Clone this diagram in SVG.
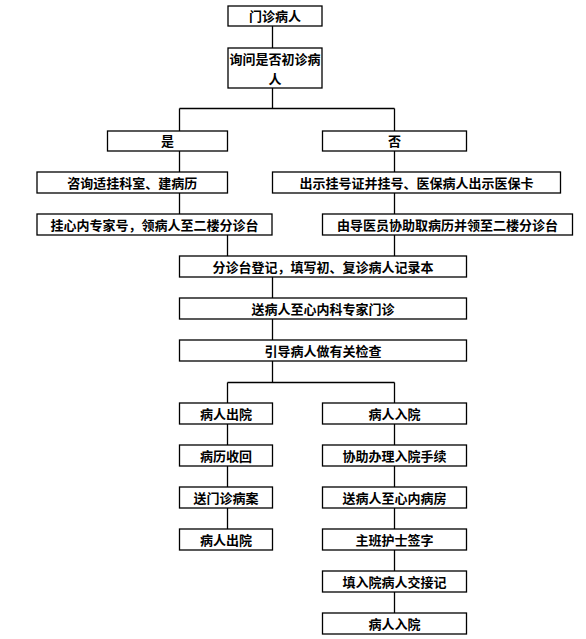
<svg xmlns="http://www.w3.org/2000/svg" width="586" height="639" viewBox="0 0 586 639">
<style>
rect{fill:#fff;stroke:#000;stroke-width:1.3}
text{font-family:"Noto Sans CJK SC","Noto Sans",sans-serif;font-size:13px;font-weight:bold;fill:#000;text-anchor:middle}
.c line{stroke:#000;stroke-width:1.3}
</style>
<rect x="0" y="0" width="586" height="639" style="fill:#fff;stroke:none"/>
<g class="c" id="connectors">
<line x1="272.5" y1="26" x2="272.5" y2="48"/>
<line x1="272.5" y1="88" x2="272.5" y2="108.5"/>
<line x1="179.5" y1="108.5" x2="394.5" y2="108.5"/>
<line x1="179.5" y1="108.5" x2="179.5" y2="131"/>
<line x1="394.5" y1="108.5" x2="394.5" y2="131"/>
<line x1="179.5" y1="151" x2="179.5" y2="172"/>
<line x1="179.5" y1="193" x2="179.5" y2="214"/>
<line x1="394.5" y1="151" x2="394.5" y2="172"/>
<line x1="394.5" y1="193" x2="394.5" y2="214"/>
<line x1="227.5" y1="235" x2="227.5" y2="256"/>
<line x1="394.5" y1="235" x2="394.5" y2="256"/>
<line x1="272.5" y1="277" x2="272.5" y2="298"/>
<line x1="272.5" y1="319" x2="272.5" y2="340"/>
<line x1="272.5" y1="361" x2="272.5" y2="382.5"/>
<line x1="227.5" y1="382.5" x2="394.5" y2="382.5"/>
<line x1="227.5" y1="382.5" x2="227.5" y2="403"/>
<line x1="394.5" y1="382.5" x2="394.5" y2="403"/>
<line x1="227.5" y1="424" x2="227.5" y2="445"/>
<line x1="227.5" y1="466" x2="227.5" y2="487"/>
<line x1="227.5" y1="508" x2="227.5" y2="529"/>
<line x1="394.5" y1="424" x2="394.5" y2="445"/>
<line x1="394.5" y1="466" x2="394.5" y2="487"/>
<line x1="394.5" y1="508" x2="394.5" y2="529"/>
<line x1="394.5" y1="550" x2="394.5" y2="571"/>
<line x1="394.5" y1="592" x2="394.5" y2="613"/>
</g>
<g id="n1"><rect x="228" y="6" width="94" height="20"/><text x="275" y="21">门诊病人</text></g>
<g id="n2"><rect x="228" y="48" width="94" height="40"/><text x="275" y="64">询问是否初诊病</text><text x="275" y="84">人</text></g>
<g id="n3"><rect x="107.5" y="131" width="120" height="20"/><text x="167.5" y="146">是</text></g>
<g id="n4"><rect x="322.5" y="131" width="144" height="20"/><text x="394.5" y="146">否</text></g>
<g id="n5"><rect x="37" y="172" width="190.5" height="21"/><text x="132.3" y="187.5">咨询适挂科室、建病历</text></g>
<g id="n6"><rect x="272.5" y="172" width="288" height="21"/><text x="416.5" y="187.5">出示挂号证并挂号、医保病人出示医保卡</text></g>
<g id="n7"><rect x="37" y="214" width="235" height="21"/><text x="154.5" y="229.5">挂心内专家号，领病人至二楼分诊台</text></g>
<g id="n8"><rect x="322.5" y="214" width="250" height="21"/><text x="447.5" y="229.5">由导医员协助取病历并领至二楼分诊台</text></g>
<g id="n9"><rect x="179.5" y="256" width="287" height="21"/><text x="323" y="271.5">分诊台登记，填写初、复诊病人记录本</text></g>
<g id="n10"><rect x="179.5" y="298" width="287" height="21"/><text x="323" y="313.5">送病人至心内科专家门诊</text></g>
<g id="n11"><rect x="179.5" y="340" width="287" height="21"/><text x="323" y="355.5">引导病人做有关检查</text></g>
<g id="n12"><rect x="179.5" y="403" width="93" height="21"/><text x="226" y="418.5">病人出院</text></g>
<g id="n13"><rect x="322.5" y="403" width="144" height="21"/><text x="394.5" y="418.5">病人入院</text></g>
<g id="n14"><rect x="179.5" y="445" width="93" height="21"/><text x="226" y="460.5">病历收回</text></g>
<g id="n15"><rect x="322.5" y="445" width="144" height="21"/><text x="394.5" y="460.5">协助办理入院手续</text></g>
<g id="n16"><rect x="179.5" y="487" width="93" height="21"/><text x="226" y="502.5">送门诊病案</text></g>
<g id="n17"><rect x="322.5" y="487" width="144" height="21"/><text x="394.5" y="502.5">送病人至心内病房</text></g>
<g id="n18"><rect x="179.5" y="529" width="93" height="21"/><text x="226" y="544.5">病人出院</text></g>
<g id="n19"><rect x="322.5" y="529" width="144" height="21"/><text x="394.5" y="544.5">主班护士签字</text></g>
<g id="n20"><rect x="322.5" y="571" width="144" height="21"/><text x="394.5" y="586.5">填入院病人交接记</text></g>
<g id="n21"><rect x="322.5" y="613" width="144" height="21"/><text x="394.5" y="628.5">病人入院</text></g>
</svg>
